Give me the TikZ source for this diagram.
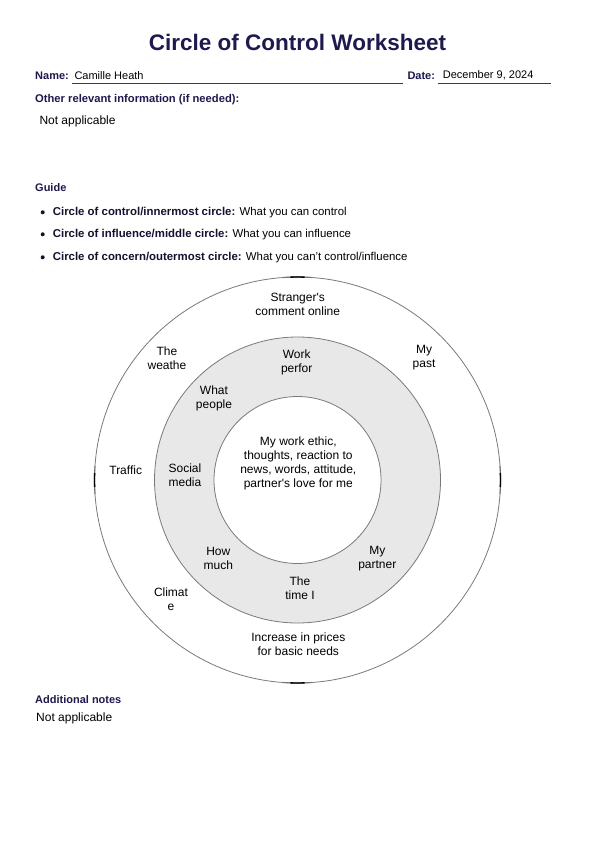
\documentclass[tikz,border=0pt]{standalone}
\usepackage{fontspec}
\setmainfont{Liberation Sans}
\definecolor{navy}{HTML}{1E1A4D}
\definecolor{boldtext}{HTML}{14122E}
\definecolor{ringfill}{HTML}{E8E8E8}
\definecolor{ringline}{HTML}{7A7A7A}
\definecolor{ulinecol}{HTML}{3A3A4A}
\tikzset{
  titlestyle/.style={font=\fontsize{22.5}{26}\selectfont\bfseries, text=navy, inner sep=0},
  lab/.style={font=\fontsize{11}{13}\selectfont\bfseries, text=navy, inner sep=0, anchor=base west},
  otherlab/.style={font=\fontsize{11.2}{13}\selectfont\bfseries, text=navy, inner sep=0, anchor=base west},
  val/.style={font=\fontsize{11}{13}\selectfont, text=black, inner sep=0, anchor=base west},
  guidetext/.style={font=\fontsize{11.4}{13}\selectfont, text=black, inner sep=0, anchor=base west},
  bigval/.style={font=\fontsize{12}{14}\selectfont, text=black, inner sep=0, anchor=base west},
  uline/.style={draw=ulinecol, line width=0.7pt},
  ring/.style={draw=ringline, line width=0.8pt},
  cardmark/.style={draw=black, line width=1.4pt},
  cardhalo/.style={draw=black!55, line width=1.1pt},
  ctext/.style={font=\fontsize{12}{14}\selectfont, align=center, inner sep=0, text=black},
}
\newcommand{\gbold}[1]{\textcolor{boldtext}{\bfseries #1}}
\begin{document}
\begin{tikzpicture}[x=1pt,y=-1pt]
\path[use as bounding box, fill=white] (0,0) rectangle (594,841);

% header
\node[titlestyle, anchor=base] (title) at (297.5,50) {Circle of Control Worksheet};
\node[lab] (namel) at (35,79) {Name:};
\node[val] (name) at (74.3,79) {Camille Heath};
\coordinate (nl1) at (71.7,83.3);
\coordinate (nl2) at (403.3,83.3);
\draw[uline] (nl1) -- (nl2);
\node[lab] (datel) at (407.3,79) {Date:};
\node[val] (date) at (442.7,78.5) {December 9, 2024};
\coordinate (dl1) at (437.7,83);
\coordinate (dl2) at (550.7,83);
\draw[uline] (dl1) -- (dl2);

\node[otherlab] (other) at (35,102.7) {Other relevant information (if needed):};
\node[bigval] (otherv) at (39.3,124) {Not applicable};

% guide
\node[lab] (guide) at (35,191) {Guide};
\node[guidetext] (b1) at (52.7,215.7) {\gbold{Circle of control/innermost circle:} What you can control};
\node[guidetext] (b2) at (52.7,237.7) {\gbold{Circle of influence/middle circle:} What you can influence};
\node[guidetext] (b3) at (52.7,260.7) {\gbold{Circle of concern/outermost circle:} What you can’t control/influence};
\fill[boldtext] (42.7,212.3) circle[radius=2];
\fill[boldtext] (42.7,234.3) circle[radius=2];
\fill[boldtext] (42.7,257.3) circle[radius=2];

% circles
\coordinate (c) at (297.5,480);
\draw[ring] (c) circle[radius=203];
\draw[ring, fill=ringfill] (c) circle[radius=143];
\draw[ring, fill=white] (c) circle[radius=83.5];
\foreach \a in {0,90,180,270}{
  \draw[cardhalo] ([shift={(\a-4:203)}]c) arc[start angle=\a-4, end angle=\a+4, radius=203];
  \draw[cardmark] ([shift={(\a-2:203)}]c) arc[start angle=\a-2, end angle=\a+2, radius=203];
}

% circle texts
\node[ctext] (t1) at (297.7,304.3) {Stranger\textquotesingle s\\comment online};
\node[ctext] (t2) at (167,358.7) {The\\weathe};
\node[ctext] (t3) at (424,357.7) {My\\past};
\node[ctext] (t4) at (296.7,362) {Work\\perfor};
\node[ctext] (t5) at (214,398.7) {What\\people};
\node[ctext] (t6) at (125.7,470) {Traffic};
\node[ctext] (t7) at (185,475.7) {Social\\media};
\node[ctext] (t8) at (298.3,463.7) {My work ethic,\\thoughts, reaction to\\news, words, attitude,\\partner\textquotesingle s love for me};
\node[ctext] (t9) at (218.3,558.7) {How\\much};
\node[ctext] (t10) at (377.3,558.7) {My\\partner};
\node[ctext] (t11) at (300,588.7) {The\\time I};
\node[ctext] (t12) at (171,599.7) {Climat\\e};
\node[ctext] (t13) at (298.3,644.7) {Increase in prices\\for basic needs};

% additional notes
\node[lab] (addl) at (35,703) {Additional notes};
\node[bigval] (addv) at (36,721) {Not applicable};
\end{tikzpicture}
\end{document}
